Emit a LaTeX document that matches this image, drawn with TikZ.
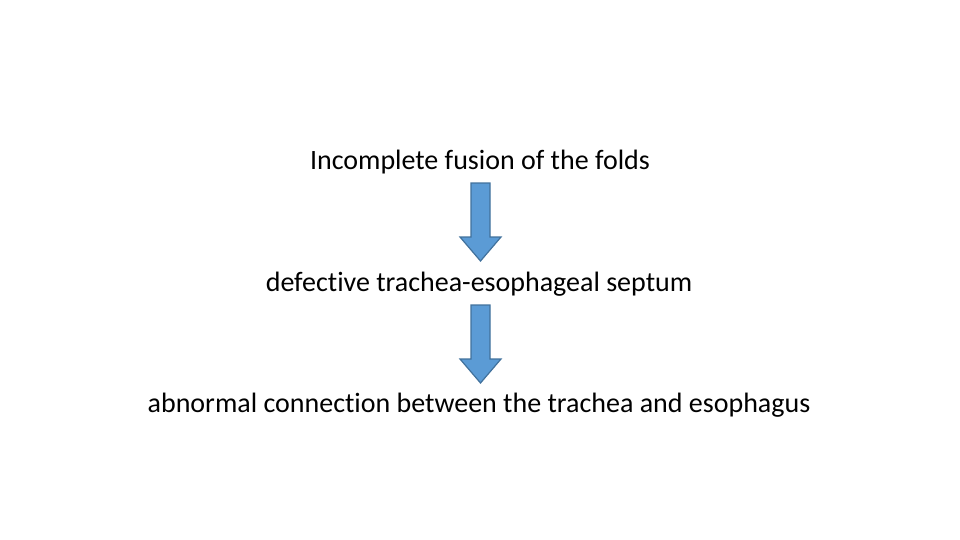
\documentclass[tikz,border=0pt]{standalone}
\usepackage{fontspec}
\setmainfont[RawFeature=-liga]{Carlito}
\definecolor{afill}{HTML}{5B9BD5}
\definecolor{aline}{HTML}{41719C}
\tikzset{lbl/.style={font=\fontsize{28pt}{32pt}\selectfont, inner sep=0pt},
  blockarrow/.style={fill=afill, draw=aline, line width=1.2pt, line join=miter}}
\begin{document}
\begin{tikzpicture}[x=1pt,y=-1pt]
\useasboundingbox (0,0) rectangle (960,540);
\node[lbl] (a) at (480,162) {Incomplete fusion of the folds};
\node[lbl] (b) at (479,284) {defective trachea-esophageal septum};
\node[lbl] (c) at (479,405) {abnormal connection between the trachea and esophagus};
\draw[blockarrow] (471,183) -- (490,183) -- (490,237) -- (501,237) -- (480.5,261) -- (460,237) -- (471,237) -- cycle;
\draw[blockarrow] (471,305) -- (490,305) -- (490,359) -- (501,359) -- (480.5,383) -- (460,359) -- (471,359) -- cycle;
\end{tikzpicture}
\end{document}
